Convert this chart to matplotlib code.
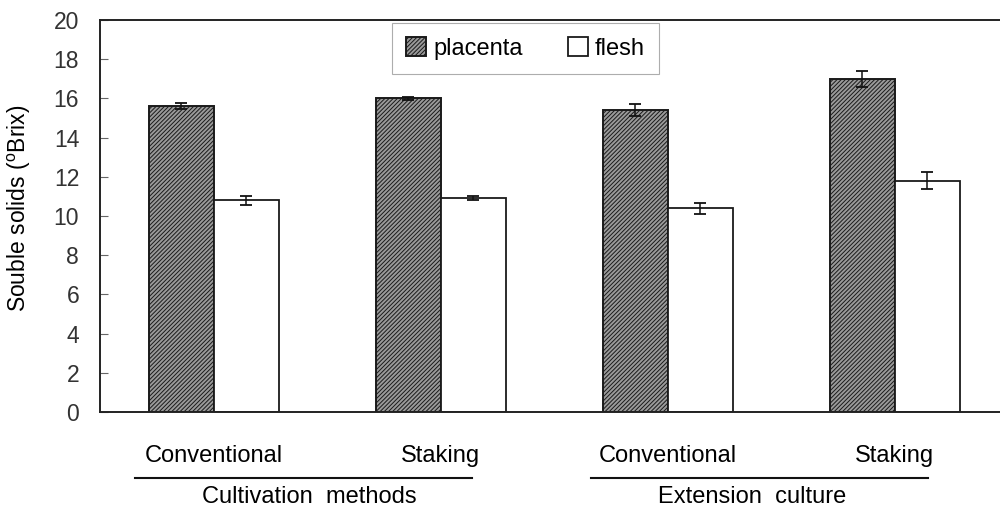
import matplotlib.pyplot as plt
import matplotlib.transforms as mtransforms
from matplotlib.lines import Line2D
import numpy as np

plt.rcParams['font.family'] = ['Liberation Sans', 'DejaVu Sans']
plt.rcParams['mathtext.fontset'] = 'custom'
plt.rcParams['mathtext.rm'] = 'Liberation Sans'
plt.rcParams['hatch.linewidth'] = 0.7

# Soluble solids by treatment
treatments = ['Conventional', 'Staking', 'Conventional', 'Staking']
placenta = [15.6, 16.0, 15.4, 17.0]
placenta_err = [0.15, 0.06, 0.3, 0.42]
flesh = [10.8, 10.9, 10.4, 11.8]
flesh_err = [0.22, 0.1, 0.28, 0.43]
groups = ['Cultivation  methods', 'Extension  culture']

fig = plt.figure(figsize=(10, 5.08), dpi=100)
ax = fig.add_axes([0.100, 1 - 412 / 508, 0.900, 392 / 508])

x = np.arange(len(treatments))
w = 0.2865
ax.bar(x - w / 2, placenta, w, color='#9a9a9a', edgecolor='#1a1a1a',
       hatch='////////', linewidth=1.4, label='placenta')
ax.bar(x + w / 2, flesh, w, color='white', edgecolor='#1a1a1a',
       linewidth=1.3, label='flesh')
ax.errorbar(x - w / 2, placenta, yerr=placenta_err, fmt='none', ecolor='#111',
            elinewidth=1.1, capsize=4.5, capthick=1.3)
ax.errorbar(x + w / 2, flesh, yerr=flesh_err, fmt='none', ecolor='#111',
            elinewidth=1.1, capsize=4.5, capthick=1.3)

ax.set_ylim(0, 20)
ax.set_yticks(range(0, 21, 2))
ax.set_xlim(-0.502, 3.463)
ax.set_xticks(x)
ax.set_xticklabels(treatments, fontsize=17)
ax.tick_params(axis='x', length=0, pad=24)
ax.tick_params(axis='y', direction='in', length=6, width=0.8, pad=15,
               labelsize=16.5, labelcolor='#333', color='#666')
ax.spines['right'].set_visible(False)
for s in ['left', 'bottom', 'top']:
    ax.spines[s].set_linewidth(1.4)
    ax.spines[s].set_color('#222')

ax.set_ylabel('Souble solids ($^{\\rm o}$Brix)', fontsize=16.5)
ax.yaxis.set_label_coords(-0.0745, 0.52)

# group brackets under the treatment labels
trans = mtransforms.blended_transform_factory(ax.transData, ax.transAxes)
spans = [(-0.348, 1.137), (1.66, 3.145)]
centers = [0.42, 2.37]
for (x0, x1), xc, name in zip(spans, centers, groups):
    ax.add_line(Line2D([x0, x1], [-0.168, -0.168], transform=trans, color='#111',
                       linewidth=1.5, clip_on=False))
    ax.text(xc, -0.218, name, transform=trans, ha='center', va='center', fontsize=17)

leg = ax.legend(loc='upper center', bbox_to_anchor=(0.473, 0.992), ncol=2,
                fontsize=17, frameon=True, fancybox=False, edgecolor='#999',
                handlelength=0.85, handleheight=0.85, handletextpad=0.3,
                columnspacing=1.9, borderpad=0.6, borderaxespad=0)
leg.get_frame().set_linewidth(0.8)

fig.savefig('out.png', dpi=100)
